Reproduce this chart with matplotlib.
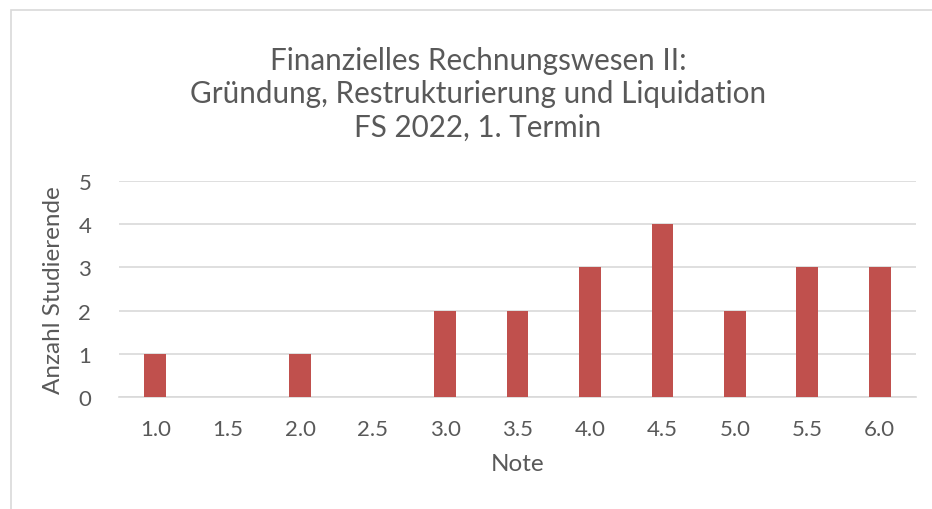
import matplotlib
matplotlib.use("Agg")
import matplotlib.pyplot as plt
from matplotlib.patches import Rectangle
import numpy as np

# ---------------------------
# Daten
noten = ["1.0", "1.5", "2.0", "2.5", "3.0", "3.5", "4.0", "4.5", "5.0", "5.5", "6.0"]
anzahl = [1, 0, 1, 0, 2, 2, 3, 4, 2, 3, 3]

titel = "Finanzielles Rechnungswesen II:\nGründung, Restrukturierung und Liquidation\nFS 2022, 1. Termin"

# ---------------------------
# Stil
plt.rcParams["font.family"] = ["Lato", "DejaVu Sans"]
textfarbe = "#595959"
balkenfarbe = "#C0504D"
gitterfarbe = "#D9D9D9"

W, H = 932, 510
fig = plt.figure(figsize=(W / 100, H / 100), dpi=100)

# Rahmen (nur oben und links sichtbar)
fig.patches.append(Rectangle((11 / W, -0.1), 1.2, (H - 11) / H + 0.1,
                             transform=fig.transFigure, fill=False,
                             edgecolor=gitterfarbe, linewidth=1.2))

ax = fig.add_axes([119 / W, 1 - 398 / H, (916 - 119) / W, (398 - 182) / H])

x = np.arange(len(noten))
ax.bar(x, anzahl, width=0.3, color=balkenfarbe, zorder=3)

ax.set_xlim(-0.5, len(noten) - 0.5)
ax.set_ylim(0, 5)
ax.set_yticks(range(6))
ax.set_xticks(x)
ax.set_xticklabels(noten)
ax.yaxis.grid(True, color=gitterfarbe, linewidth=1.2, zorder=0)
for s in ["top", "right", "left"]:
    ax.spines[s].set_visible(False)
ax.spines["bottom"].set_color(gitterfarbe)
ax.spines["bottom"].set_linewidth(1.2)
ax.tick_params(length=0, labelsize=16, colors=textfarbe)
ax.tick_params(axis="x", pad=16)
ax.tick_params(axis="y", pad=20)

ax.set_xlabel("Note", fontsize=17.5, color=textfarbe, labelpad=10)
ax.set_ylabel("Anzahl Studierende", fontsize=17.5, color=textfarbe, labelpad=10)

fig.text(478 / W, 1 - 94.5 / H, titel, ha="center", va="center",
         fontsize=21.3, color=textfarbe, linespacing=1.25)

fig.savefig("out.png", dpi=100)
